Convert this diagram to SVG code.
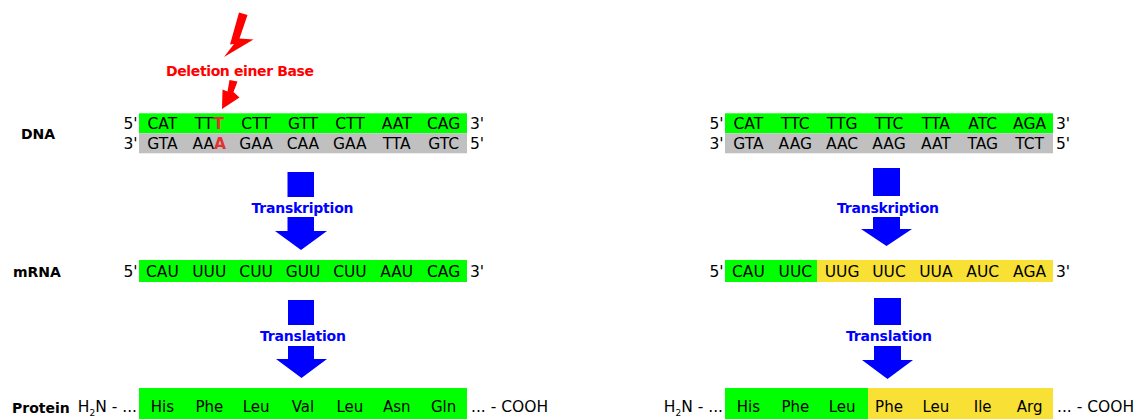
<svg xmlns="http://www.w3.org/2000/svg" width="1136" height="419" viewBox="0 0 1136 419">
<style>
text{font-family:"DejaVu Sans","Verdana",sans-serif;}
.seq{font-size:15.5px;fill:#000;text-anchor:middle;}
.end{font-size:15.5px;fill:#000;}
.lab{font-size:14px;font-weight:bold;fill:#000;}
.blue{font-size:14px;font-weight:bold;fill:#0000ff;text-anchor:middle;}
.mut{fill:#e03232;font-weight:bold;}
.prot{font-size:15px;fill:#000;text-anchor:middle;}
.g{fill:#00ff00;}
.gr{fill:#c0c0c0;}
.y{fill:#f8e034;}
.arr{fill:#0000ff;}
</style>

<g id="row-labels">
<text class="lab" x="21" y="139">DNA</text>
<text class="lab" x="13" y="277">mRNA</text>
<text class="lab" x="12" y="413">Protein</text>
</g>

<g id="mutation">
<polygon points="239,12.5 247.5,15 239.5,38.5 253.5,39.5 224,57 234,44 230,44.5" fill="#ff0000"/>
<text x="240" y="75.5" font-size="14" font-weight="bold" fill="#ff0000" text-anchor="middle" textLength="148" lengthAdjust="spacing">Deletion einer Base</text>
<polygon points="229.5,80 237.5,81.5 233.5,92 239.5,97.5 222,109 222.5,89.5 227.5,91.5" fill="#ff0000"/>
</g>

<g id="dna-left">
<rect x="139" y="113.3" width="328" height="20" class="g"/>
<rect x="139" y="133.3" width="328" height="20" class="gr"/>
<text class="end" x="137.5" y="129.3" text-anchor="end">5'</text>
<text class="end" x="470" y="129.3">3'</text>
<text class="end" x="137.5" y="149.3" text-anchor="end">3'</text>
<text class="end" x="470" y="149.3">5'</text>
<text class="seq" y="129.3"><tspan x="162.4">CAT</tspan><tspan x="209.3">TT<tspan class="mut">T</tspan></tspan><tspan x="256.1">CTT</tspan><tspan x="303">GTT</tspan><tspan x="349.9">CTT</tspan><tspan x="396.7">AAT</tspan><tspan x="443.6">CAG</tspan></text>
<text class="seq" y="149.3"><tspan x="162.4">GTA</tspan><tspan x="209.3">AA<tspan class="mut">A</tspan></tspan><tspan x="256.1">GAA</tspan><tspan x="303">CAA</tspan><tspan x="349.9">GAA</tspan><tspan x="396.7">TTA</tspan><tspan x="443.6">GTC</tspan></text>
</g>

<g id="transcription-left">
<rect x="287.5" y="172" width="26.5" height="25" class="arr"/>
<rect x="287.5" y="217" width="26.5" height="14" class="arr"/>
<polygon points="275,231 327,231 301,250" class="arr"/>
<text class="blue" x="302.5" y="213" textLength="102" lengthAdjust="spacing">Transkription</text>
</g>

<g id="mrna-left">
<rect x="139" y="260" width="328" height="22" class="g"/>
<text class="end" x="137.5" y="276.7" text-anchor="end">5'</text>
<text class="end" x="470" y="276.7">3'</text>
<text class="seq" y="276.7"><tspan x="162.4">CAU</tspan><tspan x="209.3">UUU</tspan><tspan x="256.1">CUU</tspan><tspan x="303">GUU</tspan><tspan x="349.9">CUU</tspan><tspan x="396.7">AAU</tspan><tspan x="443.6">CAG</tspan></text>
</g>

<g id="translation-left">
<rect x="288" y="300" width="26" height="25" class="arr"/>
<rect x="288" y="346" width="26" height="13" class="arr"/>
<polygon points="276,359 327,359 301.5,378" class="arr"/>
<text class="blue" x="303" y="341" textLength="86" lengthAdjust="spacing">Translation</text>
</g>

<g id="protein-left">
<rect x="139" y="388" width="328" height="32" class="g"/>
<text class="end" x="137" y="412" text-anchor="end" font-size="14.5">H<tspan font-size="9" dy="4">2</tspan><tspan dy="-4">N - ...</tspan></text>
<text class="end" x="471" y="412" font-size="14.5">... - COOH</text>
<text class="prot" y="412"><tspan x="162.4">His</tspan><tspan x="209.3">Phe</tspan><tspan x="256.1">Leu</tspan><tspan x="303">Val</tspan><tspan x="349.9">Leu</tspan><tspan x="396.7">Asn</tspan><tspan x="443.6">Gln</tspan></text>
</g>

<g id="dna-right">
<rect x="725" y="113.3" width="328" height="20" class="g"/>
<rect x="725" y="133.3" width="328" height="20" class="gr"/>
<text class="end" x="723.5" y="129.3" text-anchor="end">5'</text>
<text class="end" x="1056" y="129.3">3'</text>
<text class="end" x="723.5" y="149.3" text-anchor="end">3'</text>
<text class="end" x="1056" y="149.3">5'</text>
<text class="seq" y="129.3"><tspan x="748.4">CAT</tspan><tspan x="795.3">TTC</tspan><tspan x="842.1">TTG</tspan><tspan x="889">TTC</tspan><tspan x="935.9">TTA</tspan><tspan x="982.7">ATC</tspan><tspan x="1029.6">AGA</tspan></text>
<text class="seq" y="149.3"><tspan x="748.4">GTA</tspan><tspan x="795.3">AAG</tspan><tspan x="842.1">AAC</tspan><tspan x="889">AAG</tspan><tspan x="935.9">AAT</tspan><tspan x="982.7">TAG</tspan><tspan x="1029.6">TCT</tspan></text>
</g>

<g id="transcription-right">
<rect x="873" y="168" width="27" height="28" class="arr"/>
<rect x="873" y="217" width="27" height="12" class="arr"/>
<polygon points="861,229 912,229 886.5,246" class="arr"/>
<text class="blue" x="888" y="213" textLength="102" lengthAdjust="spacing">Transkription</text>
</g>

<g id="mrna-right">
<rect x="725" y="260" width="92" height="22" class="g"/>
<rect x="817" y="260" width="236" height="22" class="y"/>
<text class="end" x="723.5" y="276.7" text-anchor="end">5'</text>
<text class="end" x="1056" y="276.7">3'</text>
<text class="seq" y="276.7"><tspan x="748.4">CAU</tspan><tspan x="795.3">UUC</tspan><tspan x="842.1">UUG</tspan><tspan x="889">UUC</tspan><tspan x="935.9">UUA</tspan><tspan x="982.7">AUC</tspan><tspan x="1029.6">AGA</tspan></text>
</g>

<g id="translation-right">
<rect x="874" y="298" width="27" height="27" class="arr"/>
<rect x="874" y="346" width="27" height="14" class="arr"/>
<polygon points="862,360 913,360 887.5,379" class="arr"/>
<text class="blue" x="889" y="341" textLength="86" lengthAdjust="spacing">Translation</text>
</g>

<g id="protein-right">
<rect x="725" y="388" width="143" height="32" class="g"/>
<rect x="868" y="388" width="185" height="32" class="y"/>
<text class="end" x="723" y="412" text-anchor="end" font-size="14.5">H<tspan font-size="9" dy="4">2</tspan><tspan dy="-4">N - ...</tspan></text>
<text class="end" x="1057" y="412" font-size="14.5">... - COOH</text>
<text class="prot" y="412"><tspan x="748.4">His</tspan><tspan x="795.3">Phe</tspan><tspan x="842.1">Leu</tspan><tspan x="889">Phe</tspan><tspan x="935.9">Leu</tspan><tspan x="982.7">Ile</tspan><tspan x="1029.6">Arg</tspan></text>
</g>
</svg>
